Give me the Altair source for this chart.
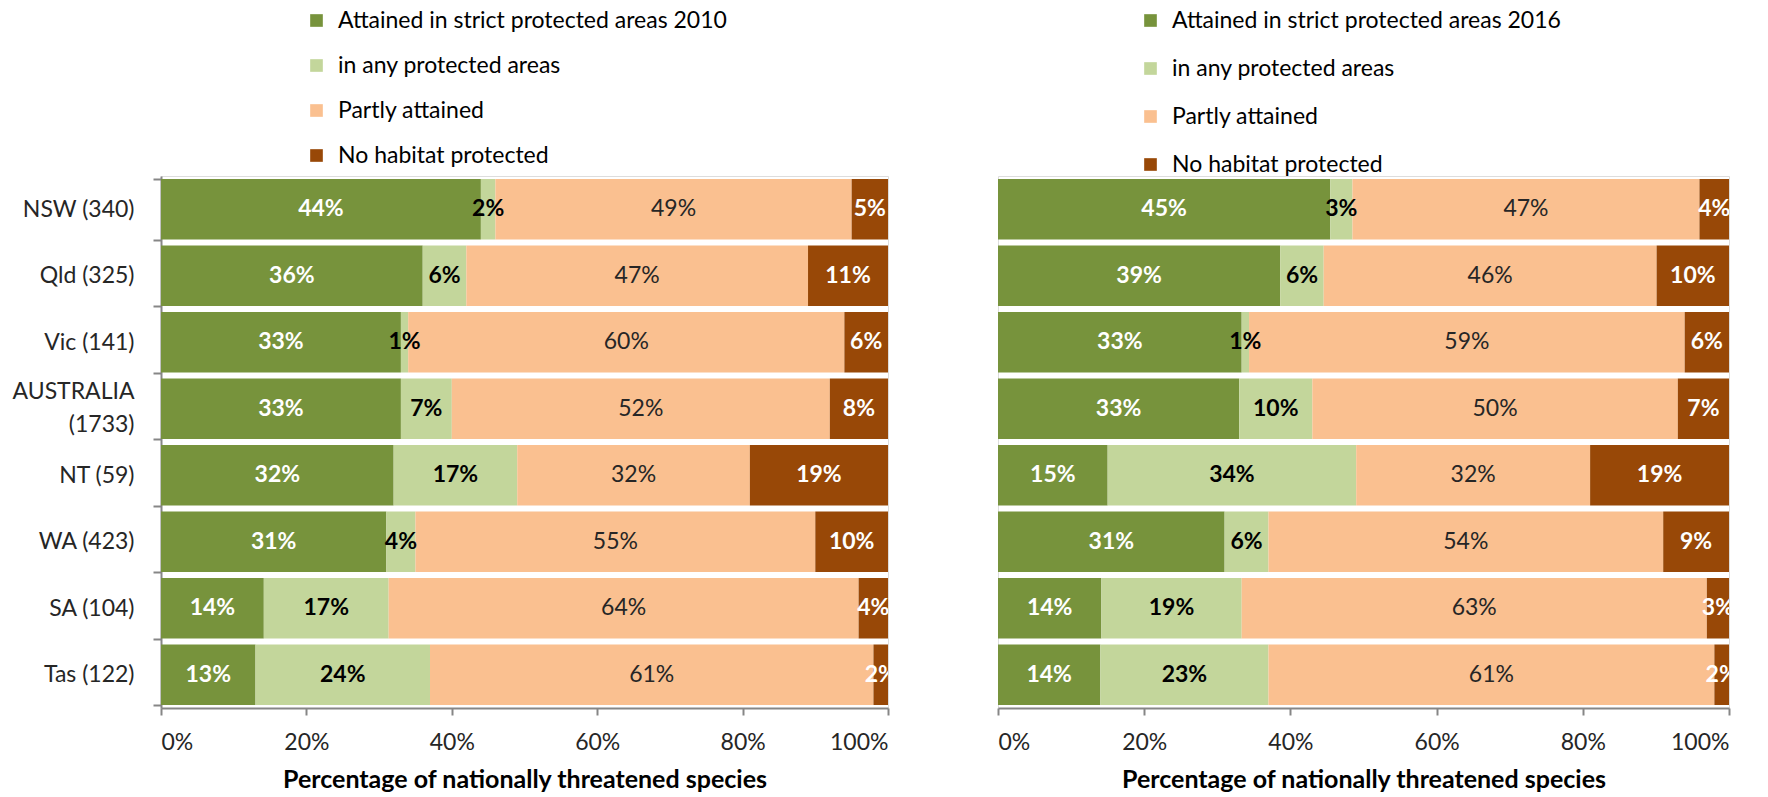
import altair as alt
import pandas as pd

categories = ["NSW (340)", "Qld (325)", "Vic (141)", "AUSTRALIA (1733)",
              "NT (59)", "WA (423)", "SA (104)", "Tas (122)"]

series_2010 = ["Attained in strict protected areas 2010", "in any protected areas",
               "Partly attained", "No habitat protected"]
series_2016 = ["Attained in strict protected areas 2016", "in any protected areas",
               "Partly attained", "No habitat protected"]

strict_2010 = [44, 36, 33, 33, 32, 31, 14, 13]
any_2010 = [2, 6, 1, 7, 17, 4, 17, 24]
partly_2010 = [49, 47, 60, 52, 32, 55, 64, 61]
none_2010 = [5, 11, 6, 8, 19, 10, 4, 2]

strict_2016 = [45, 39, 33, 33, 15, 31, 14, 14]
any_2016 = [3, 6, 1, 10, 34, 6, 19, 23]
partly_2016 = [47, 46, 59, 50, 32, 54, 63, 61]
none_2016 = [4, 10, 6, 7, 19, 9, 3, 2]

colors = ["#77933C", "#C3D69B", "#FAC090", "#984807"]
x_ticks = [0, 0.2, 0.4, 0.6, 0.8, 1.0]
x_title = "Percentage of nationally threatened species"

FONT = "Lato"
AXIS_GRAY = "#868686"
TEXT = "#262626"


def make_df(series_names, series_values):
    rows = []
    for k, (name, vals) in enumerate(zip(series_names, series_values)):
        for cat, v in zip(categories, vals):
            rows.append({"cat": cat, "series": name, "order": k, "value": v,
                         "label": f"{v}%"})
    return pd.DataFrame(rows)


def panel(series_names, series_values, width, show_y, legend_x, row_pad):
    df = make_df(series_names, series_values)
    base = alt.Chart(df).transform_stack(
        stack="value", groupby=["cat"], as_=["x0", "x1"], offset="normalize",
        sort=[alt.SortField("order", order="ascending")]
    ).transform_calculate(mid="(datum.x0 + datum.x1) / 2")

    if show_y:
        y_axis = alt.Axis(
            title=None, labelFont=FONT, labelFontSize=23, labelColor=TEXT,
            tickBand="extent", tickSize=8, tickColor=AXIS_GRAY, tickWidth=2,
            domainColor=AXIS_GRAY, domainWidth=2, labelPadding=19,
            minExtent=150, maxExtent=150, labelLineHeight=33,
            labelOffset={"condition": {"test": "datum.value == 'AUSTRALIA (1733)'",
                                       "value": -17}, "value": 0},
            labelExpr="datum.label == 'AUSTRALIA (1733)' ? ['AUSTRALIA', '(1733)'] : datum.label",
        )
    else:
        y_axis = None

    y_enc = alt.Y("cat:N", sort=categories,
                  scale=alt.Scale(paddingInner=0.09, paddingOuter=0.045),
                  axis=y_axis)
    x_scale = alt.Scale(domain=[0, 1], nice=False, zero=True)

    bars = base.mark_bar(strokeWidth=0).encode(
        y=y_enc,
        x=alt.X("x0:Q", scale=x_scale,
                axis=alt.Axis(format=".0%", values=x_ticks, title=x_title,
                              grid=False, labelFont=FONT, labelFontSize=23,
                              labelColor=TEXT, tickSize=7, tickColor=AXIS_GRAY,
                              tickWidth=2, domainColor=AXIS_GRAY, domainWidth=2,
                              labelPadding=16, titleFont=FONT, titleFontSize=25,
                              titleFontWeight="bold", titleColor="#000000",
                              titlePadding=13)),
        x2="x1:Q",
        color=alt.Color("series:N", sort=series_names,
                        scale=alt.Scale(domain=series_names, range=colors),
                        legend=alt.Legend(
                            title=None, orient="none", legendX=legend_x,
                            legendY=-167, direction="vertical",
                            symbolType="square", symbolSize=160,
                            symbolStrokeWidth=0, labelFont=FONT,
                            labelFontSize=23, labelColor="#000000",
                            labelLimit=700, rowPadding=row_pad, labelOffset=10)),
        order=alt.Order("order:Q"),
    )

    def txt(filter_expr, color, weight):
        return base.transform_filter(filter_expr).mark_text(
            font=FONT, fontSize=23, fontWeight=weight, color=color,
            clip=True, baseline="middle", align="center"
        ).encode(y=alt.Y("cat:N", sort=categories), x=alt.X("mid:Q"),
                 text="label:N")

    t0 = txt("datum.order == 0", "#FFFFFF", "bold")
    t1 = txt("datum.order == 1", "#000000", "bold")
    t2 = txt("datum.order == 2", TEXT, "normal")
    t3 = txt("datum.order == 3", "#FFFFFF", "bold")

    return alt.layer(bars, t0, t1, t2, t3).properties(width=width, height=532)


left = panel(series_2010, [strict_2010, any_2010, partly_2010, none_2010],
             727, True, 144, 21)
right = panel(series_2016, [strict_2016, any_2016, partly_2016, none_2016],
              731, False, 141, 24)

chart = alt.hconcat(left, right, spacing=110, bounds="flush").resolve_scale(
    color="independent"
).properties(
    padding={"left": 10, "top": 8, "right": 5, "bottom": 5}
).configure_view(stroke=None).configure(font=FONT, background="white")

chart.save("out.html", embed_options={"renderer": "svg", "actions": False})
